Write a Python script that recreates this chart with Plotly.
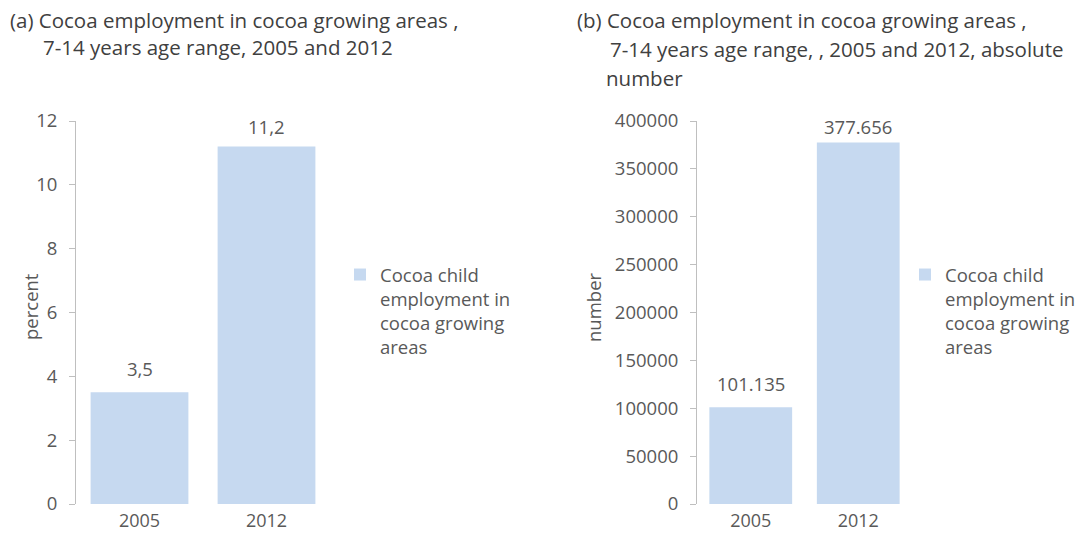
import plotly.graph_objects as go

years = ["2005", "2012"]
pct_values = [3.5, 11.2]
num_values = [101135, 377656]
pct_ticks = [0, 2, 4, 6, 8, 10, 12]
num_ticks = [0, 50000, 100000, 150000, 200000, 250000, 300000, 350000, 400000]
series_name = "Cocoa child<br>employment in<br>cocoa growing<br>areas"
title_a = ["(a) Cocoa employment in cocoa growing areas ,", "7-14 years age range, 2005 and 2012"]
title_b = ["(b) Cocoa employment in cocoa growing areas ,", "7-14 years age range, , 2005 and 2012, absolute", "number"]
ytitle_a = "percent"
ytitle_b = "number"

FONT = "Open Sans"
GREY = "#595959"
BAR = "#C6D9F0"
W, H = 1080, 533
FS = 18.5

fig = go.Figure()
fig.add_trace(go.Bar(x=[0, 1], y=pct_values, marker_color=BAR, name=series_name,
                     xaxis="x", yaxis="y", legend="legend", width=0.77, hoverinfo="skip"))
fig.add_trace(go.Bar(x=[0, 1], y=num_values, marker_color=BAR, name=series_name,
                     xaxis="x2", yaxis="y2", legend="legend2", width=0.77, hoverinfo="skip"))

def px_x(p):
    return p / W

def px_y(p):
    return 1 - p / H

Y_TOP, Y_BOT = 121, 504
ydom = [px_y(Y_BOT), px_y(Y_TOP)]
axis_common = dict(showgrid=False, zeroline=False, showline=True, linecolor="#BFBFBF",
                   linewidth=1, ticks="outside", ticklen=6, tickcolor="#BFBFBF",
                   tickfont=dict(family=FONT, size=18.5, color=GREY), automargin=False,
                   fixedrange=True, ticklabelstandoff=8)
xaxis_common = dict(showgrid=False, zeroline=False, showline=False, ticks="",
                    tickfont=dict(family=FONT, size=18, color=GREY), range=[-0.5, 1.5],
                    tickvals=[0, 1], ticktext=years, automargin=False, fixedrange=True,
                    ticklabelstandoff=4)

def label_shift(v, vmax):
    dist = (vmax - v) * (Y_BOT - Y_TOP) / vmax
    return min(24, dist - 5.5)

annotations = []
for i, yv in enumerate(pct_values):
    annotations.append(dict(x=i, y=yv, xref="x", yref="y", text=f"{yv:.1f}".replace(".", ","),
                            showarrow=False, yanchor="middle", yshift=label_shift(yv, 12),
                            font=dict(family=FONT, size=FS, color=GREY)))
for i, yv in enumerate(num_values):
    annotations.append(dict(x=i, y=yv, xref="x2", yref="y2", text=f"{yv:,}".replace(",", "."),
                            showarrow=False, yanchor="middle", yshift=label_shift(yv, 400000),
                            font=dict(family=FONT, size=FS, color=GREY)))
tfont = dict(family=FONT, size=20.5, color="#404040")
title_a_x = [8, 41]
title_b_x = [575, 608, 604]
for i, line in enumerate(title_a):
    annotations.append(dict(x=px_x(title_a_x[i]), y=px_y(20 + 27.5 * i), xref="paper", yref="paper",
                            text=line, showarrow=False, xanchor="left", yanchor="middle", font=tfont))
for i, line in enumerate(title_b):
    annotations.append(dict(x=px_x(title_b_x[i]), y=px_y(20 + 29 * i), xref="paper", yref="paper",
                            text=line, showarrow=False, xanchor="left", yanchor="middle", font=tfont))
# y-axis titles
for txt, xp in [(ytitle_a, 30), (ytitle_b, 593)]:
    annotations.append(dict(x=px_x(xp), y=px_y(307), xref="paper", yref="paper", text=txt,
                            textangle=-90, showarrow=False, xanchor="center", yanchor="middle",
                            font=dict(family=FONT, size=FS, color=GREY)))

fig.update_layout(
    template="none",
    width=W, height=H, autosize=False,
    margin=dict(l=0, r=0, t=0, b=0, autoexpand=False),
    paper_bgcolor="white", plot_bgcolor="white",
    showlegend=True, bargap=0.23,
    xaxis=dict(domain=[px_x(76), px_x(330)], anchor="y", **xaxis_common),
    yaxis=dict(domain=ydom, anchor="x", range=[0, 12], tickvals=pct_ticks, **axis_common),
    xaxis2=dict(domain=[px_x(697), px_x(912)], anchor="y2", **xaxis_common),
    yaxis2=dict(domain=ydom, anchor="x2", range=[0, 400000], tickvals=num_ticks,
                ticktext=[str(v) for v in num_ticks], **axis_common),
    legend=dict(x=px_x(340), y=px_y(256), xanchor="left", yanchor="top", valign="top",
                font=dict(family=FONT, size=FS, color=GREY), bgcolor="rgba(0,0,0,0)",
                tracegroupgap=0),
    legend2=dict(x=px_x(905), y=px_y(256), xanchor="left", yanchor="top", valign="top",
                 font=dict(family=FONT, size=FS, color=GREY), bgcolor="rgba(0,0,0,0)",
                 tracegroupgap=0),
    annotations=annotations,
)

fig.write_html("out.html", config={"displayModeBar": False},
               post_script="document.body.style.margin='0';")
